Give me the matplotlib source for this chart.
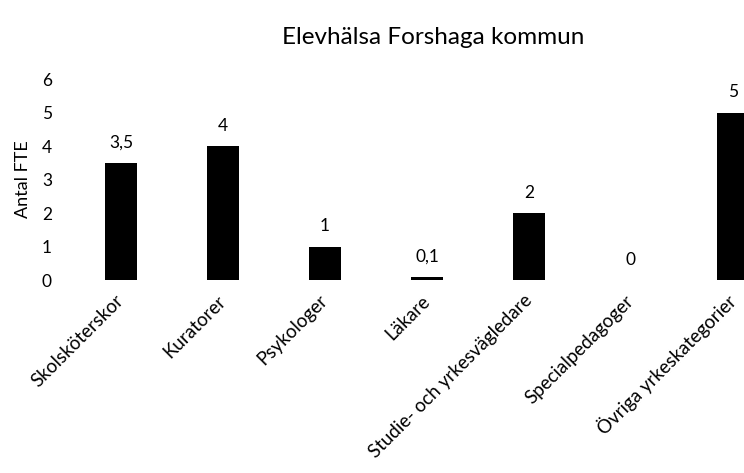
import matplotlib
matplotlib.use("Agg")
import matplotlib.pyplot as plt

# data
kategorier = ["Skolsköterskor", "Kuratorer", "Psykologer", "Läkare",
              "Studie- och yrkesvägledare", "Specialpedagoger", "Övriga yrkeskategorier"]
antal_fte = [3.5, 4, 1, 0.1, 2, 0, 5]
y_ticks = [0, 1, 2, 3, 4, 5, 6]

plt.rcParams["font.family"] = ["Lato", "DejaVu Sans"]

fig = plt.figure(figsize=(7.44, 4.73), dpi=100)
# axes runs past the right edge, so the last bar is cut like in the scan
ax = fig.add_axes([70 / 744, 1 - 280 / 473, 714 / 744, 201 / 473])

x = list(range(len(kategorier)))
ax.bar(x, antal_fte, width=0.31, color="black")

for xi, v in zip(x, antal_fte):
    txt = f"{v:g}".replace(".", ",")
    ax.annotate(txt, (xi, v), xytext=(0, 9), textcoords="offset points",
                ha="center", va="bottom", fontsize=12.5)

ax.set_xlim(-0.5, 6.5)
ax.set_ylim(0, 6)
ax.set_yticks(y_ticks)
ax.set_yticklabels([str(t) for t in y_ticks], fontsize=12.5)
ax.set_xticks(x)
ax.set_xticklabels(kategorier, rotation=45, ha="right", va="center",
                   rotation_mode="anchor", fontsize=13.5)
ax.tick_params(length=0)
ax.tick_params(axis="y", pad=13)
ax.tick_params(axis="x", pad=13)
for s in ax.spines.values():
    s.set_visible(False)

ax.set_ylabel("Antal FTE", fontsize=13, labelpad=8)
fig.text(433 / 744, 1 - 37 / 473, "Elevhälsa Forshaga kommun", ha="center", va="center", fontsize=17.5)

fig.savefig("out.png", dpi=100)
